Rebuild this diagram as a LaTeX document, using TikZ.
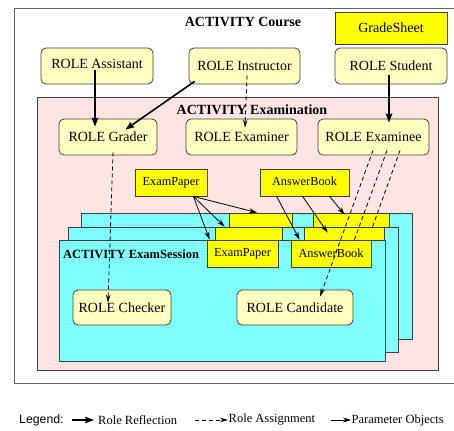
\documentclass[tikz,border=0pt]{standalone}
\usepackage{fontspec}
\setmainfont{Liberation Serif}
\newfontfamily\legendsans{Liberation Sans}
\usetikzlibrary{arrows.meta,calc}
\definecolor{rolefill}{RGB}{255,255,192}
\definecolor{pinkfill}{RGB}{255,228,228}
\definecolor{cyanfill}{RGB}{128,255,255}
\definecolor{paramfill}{RGB}{255,255,0}
\definecolor{edgegray}{RGB}{64,64,64}
\definecolor{outergray}{RGB}{100,100,100}
\begin{document}
\begin{tikzpicture}[x=1pt,y=-1pt,
 rolebox/.style={draw=edgegray, fill=rolefill, rounded corners=5pt, line width=0.8pt, inner sep=0pt, font=\fontsize{14}{16}\selectfont},
 parambox/.style={draw=edgegray, fill=paramfill, line width=0.8pt, inner sep=0pt, font=\fontsize{12.3}{14}\selectfont},
 areabox/.style={draw=edgegray, line width=0.8pt},
 titletext/.style={font=\fontsize{14}{16}\selectfont\bfseries, inner sep=0pt},
 reflect/.style={line width=1.6pt, -{Stealth[length=9pt,width=6.5pt,inset=1.5pt]}},
 assign/.style={line width=0.8pt, dash pattern=on 4pt off 3pt, -{Stealth[length=8pt,width=4.5pt]}},
 paramarrow/.style={line width=0.8pt, -{Stealth[length=8pt,width=5pt]}},
 legendtext/.style={font=\fontsize{12.5}{14}\selectfont, inner sep=0pt, anchor=west},
]
\useasboundingbox (0,0) rectangle (454,430);
\fill[white] (0,0) rectangle (454,430);

% ACTIVITY Course
\draw[draw=outergray, line width=0.9pt] (456,8) -- (14.5,8) -- (14.5,383) -- (456,383);
\node[titletext] (course) at (243,22) {ACTIVITY Course};
\node[parambox, font=\fontsize{14}{16}\selectfont, minimum width=112pt, minimum height=32pt] (grade) at (391,28) {GradeSheet};
\node[rolebox, minimum width=112pt, minimum height=36pt] (assist) at (97,66) {\raisebox{4pt}{ROLE Assistant}};
\node[rolebox, minimum width=111pt, minimum height=36pt] (instr) at (244.5,66) {ROLE Instructor};
\node[rolebox, minimum width=112pt, minimum height=36pt] (stud) at (391,66) {ROLE Student};

% ACTIVITY Examination
\draw[areabox, fill=pinkfill] (37,97) rectangle (438,370);
\node[titletext] (exam) at (252,110) {ACTIVITY Examination};
\node[rolebox, minimum width=98pt, minimum height=36pt] (grader) at (108,137) {ROLE Grader};
\node[rolebox, minimum width=111pt, minimum height=36pt] (exr) at (241.5,137) {ROLE Examiner};
\node[rolebox, minimum width=111pt, minimum height=36pt] (exe) at (373.5,137) {ROLE Examinee};
\node[parambox, minimum width=72pt, minimum height=27pt] (ep) at (171,182.5) {ExamPaper};
\node[parambox, minimum width=89pt, minimum height=27pt] (ab) at (304.5,182.5) {\raisebox{3pt}{AnswerBook}};

% back session
\draw[areabox, fill=cyanfill] (81,213) rectangle (412,339);
\node[parambox, minimum width=63pt, minimum height=27pt] (backep) at (260.5,226.5) {};
\node[parambox, minimum width=76pt, minimum height=27pt] (backab) at (351,226.5) {};
\coordinate (candC) at (366,245);
\draw[assign] ($(exe.south)+(26.5,-5)$) -- (candC);

% middle session
\draw[areabox, fill=cyanfill] (68,227) rectangle (398,352);
\node[parambox, minimum width=67pt, minimum height=27pt] (midep) at (248.5,240.5) {};
\node[parambox, minimum width=80pt, minimum height=27pt] (midab) at (344,240.5) {};
\coordinate (candB) at (347,260);
\draw[assign] ($(exe.south)+(13.5,-5)$) -- (candB);

% front session
\draw[areabox, fill=cyanfill] (59,240) rectangle (385,361);
\node[font=\fontsize{12.5}{14}\selectfont\bfseries, inner sep=0pt, anchor=west] (sess) at (63,254) {ACTIVITY ExamSession};
\node[parambox, minimum width=71pt, minimum height=27pt] (frontep) at (242.5,253.5) {ExamPaper};
\node[parambox, minimum width=80pt, minimum height=27pt] (frontab) at (331,253.5) {AnswerBook};
\node[rolebox, minimum width=98pt, minimum height=35pt] (checker) at (122,307.5) {ROLE Checker};
\node[rolebox, minimum width=116pt, minimum height=35pt] (cand) at (295,307.5) {ROLE Candidate};
\draw[assign] ($(exe.south)+(-0.5,-5)$) -- ($(cand.north)+(25,7)$);

% role reflection
\draw[reflect] ($(assist.south)+(-2,-14)$) -- ($(grader.north)+(-13,8)$);
\draw[reflect] ($(instr.south west)+(6,-3)$) -- ($(grader.north east)+(-32,11)$);
\draw[reflect] ($(stud.south)+(-2,-9)$) -- ($(exe.north)+(15.5,4)$);

% role assignment
\draw[assign] ($(instr.south)+(2.5,-9)$) -- ($(exr.north)+(3.5,9)$);
\draw[assign] ($(grader.south)+(5,-3)$) -- ($(checker.north)+(-14,13)$);

% parameter objects
\draw[paramarrow] ($(ep.south east)+(-14,0)$) -- ($(backep.north)+(-3.5,0)$);
\draw[paramarrow] ($(ep.south east)+(-14,0)$) -- ($(midep.north west)+(10,0)$);
\draw[paramarrow] ($(ep.south east)+(-14,0)$) -- ($(frontep.north west)+(3,0)$);
\draw[paramarrow] ($(ab.south west)+(17,0)$) -- ($(frontab.north west)+(9,0)$);
\draw[paramarrow] ($(ab.south west)+(43,0)$) -- ($(midab.north west)+(24,6)$);
\draw[paramarrow] ($(ab.south west)+(70,0)$) -- ($(backab.north west)+(32,2)$);

% legend
\node[legendtext, font=\legendsans\fontsize{12.3}{14}\selectfont] (leg) at (19,420) {Legend:};
\coordinate (l1a) at (72,420); \coordinate (l1b) at (94,420);
\draw[reflect, line width=1.4pt] (l1a) -- (l1b);
\node[legendtext] (lt1) at (98,420) {Role Reflection};
\coordinate (l2a) at (195,420); \coordinate (l2b) at (228,420);
\draw[assign] (l2a) -- (l2b);
\node[legendtext] (lt2) at (228.5,420) {Role Assignment};
\coordinate (l3a) at (331,420); \coordinate (l3b) at (351,420);
\draw[paramarrow] (l3a) -- (l3b);
\node[legendtext] (lt3) at (351.5,420) {Parameter Objects};
\end{tikzpicture}
\end{document}
